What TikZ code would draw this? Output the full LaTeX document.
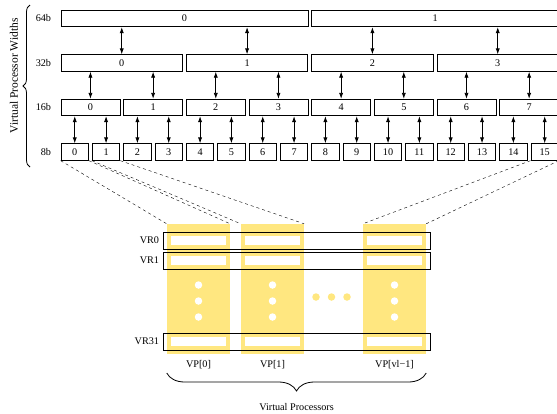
\documentclass[tikz,border=0pt]{standalone}
\usepackage{fontspec}
\setmainfont{Liberation Serif}
\usetikzlibrary{positioning,arrows.meta,decorations.pathreplacing}
\definecolor{vpyellow}{RGB}{255,231,128}

\begin{document}
\begin{tikzpicture}[x=1pt, y=-1pt,
    font=\fontsize{10.2}{12}\selectfont,
    wbox/.style={rectangle, draw, line width=0.8pt, minimum height=16.5pt, inner sep=0pt},
    dbl/.style={{Latex[length=6pt,width=4.2pt]}-{Latex[length=6pt,width=4.2pt]}, line width=0.8pt},
    lane/.style={rectangle, fill=vpyellow, minimum width=63pt, minimum height=130pt, inner sep=0pt},
    vreg/.style={rectangle, draw, line width=0.8pt, minimum width=267pt, minimum height=17pt, inner sep=0pt},
    cell/.style={rectangle, fill=white, minimum width=55pt, minimum height=9pt, inner sep=0pt},
    pip/.style={circle, fill=#1, minimum size=7.5pt, inner sep=0pt}]

    \useasboundingbox (0,0) rectangle (557,413);

    % Processor widths
    \foreach \i in {0,1}
      \node[wbox, minimum width=246.9pt] (w64-\i) at ({61+\i*250.67+123.45},18.5) {\i};
    \foreach \i in {0,...,3}
      \node[wbox, minimum width=121.5pt] (w32-\i) at ({61+\i*125.33+60.75},63) {\i};
    \foreach \i in {0,...,7}
      \node[wbox, minimum width=58.9pt] (w16-\i) at ({61+\i*62.67+29.45},107.5) {\i};
    \foreach \i in {0,...,15}
      \node[wbox, minimum width=27.5pt] (w8-\i) at ({61+\i*31.33+13.75},152) {\i};

    \node[left=6pt of w64-0] (l64) {64b};
    \node[left=6pt of w32-0] (l32) {32b};
    \node[left=6pt of w16-0] (l16) {16b};
    \node[left=6pt of w8-0] (l8) {8b};

    \foreach \i [evaluate=\i as \j using {int(\i/2)}] in {0,...,3}
      \draw[dbl] (w32-\i.north) -- (w32-\i.north |- w64-\j.south);
    \foreach \i [evaluate=\i as \j using {int(\i/2)}] in {0,...,7}
      \draw[dbl] (w16-\i.north) -- (w16-\i.north |- w32-\j.south);
    \foreach \i [evaluate=\i as \j using {int(\i/2)}] in {0,...,15}
      \draw[dbl] (w8-\i.north) -- (w8-\i.north |- w16-\j.south);

    \draw[decorate, decoration={brace, amplitude=7pt}, line width=0.8pt] (30,167) -- (30,5);
    \node[rotate=90, font=\fontsize{11.5}{13}\selectfont] (vpw) at (14,76) {Virtual Processor Widths};

    % Virtual processors
    \node[lane] (vp0) at (198.5,289) {};
    \node[lane] (vp1) at (272.5,289) {};
    \node[lane] (vp2) at (394.5,289) {};

    \foreach \r/\y in {0/240.5, 1/260.5, 31/341.5} {
      \foreach \c in {0,1,2}
        \node[cell] (c\c-\r) at (vp\c |- 0,\y) {};
      \node[vreg] (vr\r) at (296.5,\y) {};
      \node[anchor=east] (lvr\r) at (vr\r.west) {VR\r};
    }

    \foreach \c in {0,1,2}
      \foreach \y in {285,301,317}
        \node[pip=white] (d\c-\y) at (vp\c |- 0,\y) {};
    \foreach \x [count=\k] in {316,331.5,347}
      \node[pip=vpyellow] (g\k) at (\x,297) {};

    \node[below=2.5pt of vp0] (t0) {VP[0]};
    \node[below=2.5pt of vp1] (t1) {VP[1]};
    \node[below=2.5pt of vp2] (t2) {VP[vl−1]};

    \draw[dashed] (w8-0.south west) -- (vp0.north west);
    \draw[dashed] (w8-0.south east) -- (vp0.north east);
    \draw[dashed] (w8-1.south west) -- (vp1.north west);
    \draw[dashed] (w8-1.south east) -- (vp1.north east);
    \draw[dashed] (w8-15.south west) -- (vp2.north west);
    \draw[dashed] (w8-15.south east) -- (vp2.north east);

    \draw[decorate, decoration={brace, amplitude=18pt}, line width=0.8pt] (vp2.east |- 0,373) -- (vp0.west |- 0,373);
    \node (vps) at (296.5,407) {Virtual Processors};
\end{tikzpicture}
\end{document}
